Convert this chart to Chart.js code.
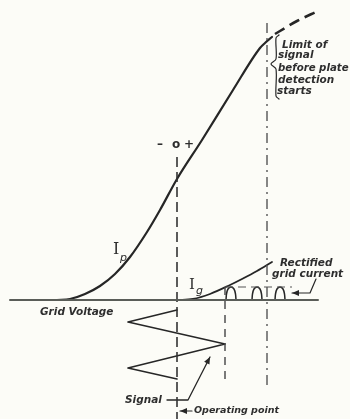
<!DOCTYPE html>
<html>
<head>
<meta charset="utf-8">
<script src="https://cdn.jsdelivr.net/npm/chart.js@4"></script>
<style>
  html, body { margin: 0; padding: 0; background: #fcfcf7; }
  #wrap { width: 350px; height: 419px; }
</style>
</head>
<body>
<div id="wrap"><canvas id="c" width="350" height="419"></canvas></div>
<script>
// ---- Data (grid voltage relative to operating point, current relative to zero) ----
// Plate current Ip (solid part)
const ipX = [-120, -107, -92, -77, -62, -47, -30, -17, 0, 25, 56, 83, 88, 95];
const ipY = [0, 1, 6, 14, 26, 43, 68, 90, 121, 160, 210, 252, 257, 263];
// Plate current beyond the limit (dashed)
const ipDashX = [98, 108, 120, 141];
const ipDashY = [266, 272, 279, 289];
// Grid current Ig
const igX = [0, 16, 33, 53, 65, 80, 95];
const igY = [0, 1, 6, 15, 21, 29, 38];
// Signal (grid swing)
const sigX = [0, -49, 48, -49, 0];
const sigY = [-10, -22, -44, -68, -79];
// Rectified grid-current pulses
const pulse1X = [49, 49.5, 51, 54, 57, 58.5, 59];
const pulse2X = [75, 75.5, 77, 80, 83, 84.5, 85];
const pulse3X = [98, 98.5, 100, 103, 106, 107.5, 108];
const pulseY  = [0, 6, 11, 13, 11, 6, 0];
// Axis & guide lines
const axisX = [-167, 141];           const axisY = [0, 0];
const opLineX = [0, 0];              const opLineY = [143, -119];
const peakLineX = [48, 48];          const peakLineY = [13, -80];
const limitLineX = [90, 90];         const limitLineY = [277, -90];
const pulseTopX = [48, 115];         const pulseTopY = [13, 13];
const braceX = [102, 99, 99, 94, 99, 99, 102];
const braceY = [265, 262, 241, 236, 231, 204, 201];
// Pointer arrows
const sigArrowX = [-10, 11, 33];     const sigArrowY = [-100, -100, -57];
const opArrowX = [15, 3];            const opArrowY = [-111, -111];
const recArrowX = [139, 133, 115];   const recArrowY = [21, 7, 7];

const pts = (xs, ys) => xs.map((x, i) => ({ x: x, y: ys[i] }));
const INK = '#262626';

function ds(xs, ys, opt) {
  return Object.assign({
    data: pts(xs, ys), showLine: true, pointRadius: 0, borderColor: INK,
    borderWidth: 2, tension: 0, fill: false, borderCapStyle: 'round', borderJoinStyle: 'round'
  }, opt || {});
}

const datasets = [
  ds(axisX, axisY, { borderColor: '#5a5d58', borderWidth: 2 }),
  ds(opLineX, opLineY, { borderWidth: 1.6, borderDash: [10, 5], borderCapStyle: 'butt', borderColor: '#333' }),
  ds(peakLineX, peakLineY, { borderWidth: 1.4, borderDash: [8, 6], borderCapStyle: 'butt', borderColor: '#444' }),
  ds(limitLineX, limitLineY, { borderWidth: 1.4, borderDash: [10, 5, 2, 5], borderCapStyle: 'butt', borderColor: '#555' }),
  ds(pulseTopX, pulseTopY, { borderWidth: 1, borderDash: [8, 5], borderCapStyle: 'butt', borderColor: '#555' }),
  ds(ipX, ipY, { borderWidth: 2.2, cubicInterpolationMode: 'monotone' }),
  ds(ipDashX, ipDashY, { borderWidth: 2.6, borderDash: [11, 6], borderCapStyle: 'butt', cubicInterpolationMode: 'monotone' }),
  ds(igX, igY, { borderWidth: 1.8, cubicInterpolationMode: 'monotone' }),
  ds(sigX, sigY, { borderWidth: 1.6 }),
  ds(pulse1X, pulseY, { borderWidth: 1.5, tension: 0.3 }),
  ds(pulse2X, pulseY, { borderWidth: 1.5, tension: 0.3 }),
  ds(pulse3X, pulseY, { borderWidth: 1.5, tension: 0.3 }),
  ds(braceX, braceY, { borderWidth: 1.2, tension: 0.3 }),
  ds(sigArrowX, sigArrowY, { borderWidth: 1.3, arrow: true }),
  ds(opArrowX, opArrowY, { borderWidth: 1.2, arrow: true }),
  ds(recArrowX, recArrowY, { borderWidth: 1.2, arrow: true })
];

// Text labels anchored in data coordinates
const TXT = 'italic 600 10.5px "DejaVu Sans", sans-serif';
const labels = [
  { t: 'Limit of', x: 105, y: 255 },
  { t: 'signal', x: 101, y: 245 },
  { t: 'before plate', x: 101, y: 232, font: 'italic 600 10.2px "DejaVu Sans", sans-serif' },
  { t: 'detection', x: 101, y: 220 },
  { t: 'starts', x: 100, y: 209 },
  { t: 'Rectified', x: 103, y: 37 },
  { t: 'grid current', x: 95, y: 26 },
  { t: 'Grid Voltage', x: -137, y: -12 },
  { t: 'Signal', x: -52, y: -100 },
  { t: 'Operating point', x: 17, y: -111, font: 'italic 600 9.5px "DejaVu Sans", sans-serif' },
  { t: '–', x: -17, y: 155, font: 'bold 12px "DejaVu Sans", sans-serif', align: 'center' },
  { t: 'o', x: -1, y: 155, font: 'bold 12px "DejaVu Sans", sans-serif', align: 'center' },
  { t: '+', x: 12, y: 155, font: 'bold 12px "DejaVu Sans", sans-serif', align: 'center' },
  { t: 'I', x: -64, y: 50, font: '16px "DejaVu Serif", serif' },
  { t: 'p', x: -57, y: 42, font: 'italic 11px "DejaVu Sans", sans-serif' },
  { t: 'I', x: 12, y: 15, font: '15px "DejaVu Serif", serif' },
  { t: 'g', x: 19, y: 9, font: 'italic 11px "DejaVu Sans", sans-serif' }
];

const decor = {
  id: 'decor',
  beforeDraw(chart) {
    const c = chart.ctx;
    c.save();
    c.fillStyle = '#fcfcf7';
    c.fillRect(0, 0, chart.width, chart.height);
    c.restore();
  },
  afterDatasetsDraw(chart) {
    const c = chart.ctx;
    const sx = chart.scales.x, sy = chart.scales.y;
    c.save();
    // arrow heads
    chart.data.datasets.forEach((d, i) => {
      if (!d.arrow) return;
      const m = chart.getDatasetMeta(i).data;
      const a = m[m.length - 2], b = m[m.length - 1];
      const ang = Math.atan2(b.y - a.y, b.x - a.x);
      const L = 7, W = 3;
      c.fillStyle = INK;
      c.beginPath();
      c.moveTo(b.x, b.y);
      c.lineTo(b.x - L * Math.cos(ang) + W * Math.sin(ang), b.y - L * Math.sin(ang) - W * Math.cos(ang));
      c.lineTo(b.x - L * Math.cos(ang) - W * Math.sin(ang), b.y - L * Math.sin(ang) + W * Math.cos(ang));
      c.closePath();
      c.fill();
    });
    // text
    c.fillStyle = '#2e2e2e';
    c.textBaseline = 'middle';
    labels.forEach(l => {
      c.font = l.font || TXT;
      c.textAlign = l.align || 'left';
      c.fillText(l.t, sx.getPixelForValue(l.x), sy.getPixelForValue(l.y));
    });
    c.restore();
  }
};

new Chart(document.getElementById('c'), {
  type: 'scatter',
  data: { datasets: datasets },
  options: {
    responsive: false,
    animation: false,
    devicePixelRatio: 1,
    layout: { padding: 0 },
    plugins: { legend: { display: false }, tooltip: { enabled: false } },
    scales: {
      x: { type: 'linear', min: -177, max: 173, display: false },
      y: { type: 'linear', min: -119, max: 300, display: false }
    }
  },
  plugins: [decor]
});
</script>
</body>
</html>
